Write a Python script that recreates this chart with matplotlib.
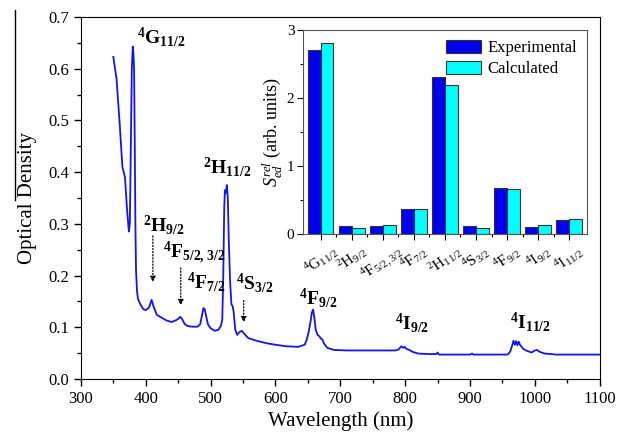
import matplotlib
matplotlib.use("Agg")
import matplotlib.pyplot as plt
from matplotlib.lines import Line2D
import numpy as np

plt.rcParams["font.family"] = ["Liberation Serif", "DejaVu Serif"]
plt.rcParams["mathtext.fontset"] = "custom"
plt.rcParams["mathtext.rm"] = "Liberation Serif"
plt.rcParams["mathtext.it"] = "Liberation Serif:italic"
plt.rcParams["mathtext.bf"] = "Liberation Serif:bold"

# absorption spectrum
wavelength = [350, 355, 360, 364, 368, 371, 374, 375.5, 377, 378.5, 380, 381, 382, 383, 384, 385,
              386.5, 388, 391, 396, 400, 405, 409, 412, 417, 425, 432, 440, 446, 450, 453, 456,
              460, 465, 472, 480, 484, 487, 489, 491, 493, 496, 500, 506, 512, 516, 518, 519.5,
              521, 522, 523.5, 525, 526.5, 528, 530, 532, 534, 535.5, 538, 541, 544, 548, 552,
              558, 570, 586, 600, 617, 635, 645, 648, 651, 654, 656, 658, 660, 662, 665, 668,
              670, 672, 675, 680, 690, 710, 730, 760, 785, 790, 794, 797, 799, 802, 806, 812,
              820, 835, 848, 850, 852, 880, 900, 903, 905, 940, 958, 962, 965, 967, 969, 971,
              973, 975, 977, 979, 982, 988, 995, 1000, 1003, 1008, 1015, 1025, 1032, 1050, 1100]
optical_density = [0.623, 0.58, 0.49, 0.41, 0.39, 0.33, 0.285, 0.30, 0.45, 0.60, 0.643, 0.63, 0.60,
                   0.46, 0.30, 0.21, 0.17, 0.155, 0.146, 0.135, 0.133, 0.138, 0.153, 0.14, 0.124,
                   0.118, 0.113, 0.110, 0.113, 0.116, 0.12, 0.116, 0.106, 0.102, 0.101, 0.101,
                   0.106, 0.125, 0.137, 0.134, 0.122, 0.105, 0.098, 0.093, 0.095, 0.103, 0.115,
                   0.2, 0.33, 0.365, 0.36, 0.375, 0.35, 0.27, 0.19, 0.145, 0.14, 0.13, 0.095,
                   0.085, 0.09, 0.093, 0.087, 0.079, 0.074, 0.069, 0.066, 0.063, 0.062, 0.066,
                   0.075, 0.09, 0.11, 0.128, 0.134, 0.118, 0.095, 0.085, 0.082, 0.078, 0.077,
                   0.068, 0.06, 0.056, 0.055, 0.055, 0.055, 0.055, 0.057, 0.063, 0.06, 0.062,
                   0.058, 0.056, 0.052, 0.049, 0.048, 0.048, 0.051, 0.047, 0.047, 0.047, 0.049,
                   0.047, 0.047, 0.047, 0.053, 0.065, 0.074, 0.066, 0.073, 0.065, 0.072, 0.066,
                   0.063, 0.058, 0.054, 0.051, 0.055, 0.056, 0.052, 0.049, 0.048, 0.047, 0.047,
                   0.047]

# band labels on the spectrum: text, x, y
band_labels = [r"$\mathbf{^4G_{11/2}}$", r"$\mathbf{^2H_{11/2}}$", r"$\mathbf{^2H_{9/2}}$",
               r"$\mathbf{^4F_{5/2,\,3/2}}$", r"$\mathbf{^4F_{7/2}}$", r"$\mathbf{^4S_{3/2}}$",
               r"$\mathbf{^4F_{9/2}}$", r"$\mathbf{^4I_{9/2}}$", r"$\mathbf{^4I_{11/2}}$"]
band_x = [386, 489, 395, 426, 463, 539, 636, 784, 961]
band_y = [0.662, 0.41, 0.297, 0.245, 0.188, 0.186, 0.157, 0.108, 0.11]

# dotted arrows: x, y start, y end
arrow_x = [411, 454, 551]
arrow_y0 = [0.282, 0.22, 0.157]
arrow_y1 = [0.182, 0.137, 0.104]

# inset bar chart
transitions = [r"$^4$G$_{11/2}$", r"$^2$H$_{9/2}$", r"$^4$F$_{5/2,3/2}$", r"$^4$F$_{7/2}$",
               r"$^2$H$_{11/2}$", r"$^4$S$_{3/2}$", r"$^4$F$_{9/2}$", r"$^4$I$_{9/2}$",
               r"$^4$I$_{11/2}$"]
experimental = [2.71, 0.11, 0.11, 0.36, 2.31, 0.11, 0.67, 0.10, 0.20]
calculated = [2.80, 0.09, 0.13, 0.37, 2.19, 0.08, 0.66, 0.13, 0.22]

fig = plt.figure(figsize=(6.32, 4.38), dpi=100)
ax = fig.add_axes([0.128, 0.135, 0.821, 0.826])
ax.plot(wavelength, optical_density, color="#1414f0", lw=1.3)
ax.set_xlim(300, 1100)
ax.set_ylim(0, 0.7)
ax.set_xticks(np.arange(300, 1101, 100))
ax.set_xticks(np.arange(350, 1100, 100), minor=True)
ax.set_yticks(np.arange(0, 0.71, 0.1))
ax.set_yticks(np.arange(0.05, 0.7, 0.1), minor=True)
ax.yaxis.set_major_formatter(matplotlib.ticker.FormatStrFormatter("%.1f"))
ax.tick_params(labelsize=12, length=5, width=1)
ax.tick_params(which="minor", length=3, width=1)
ax.set_xlabel("Wavelength (nm)", fontsize=15, labelpad=3)
ax.set_ylabel("Optical Density", fontsize=15, labelpad=8)

for txt, x, y in zip(band_labels, band_x, band_y):
    ax.text(x, y, txt, fontsize=14, ha="left", va="center")

for x, y0, y1 in zip(arrow_x, arrow_y0, arrow_y1):
    ax.annotate("", xy=(x, y1), xytext=(x, y0),
                arrowprops=dict(arrowstyle="-|>", linestyle=(0, (1, 1.5)), lw=0.9,
                                color="black", mutation_scale=8))

# stray vertical rule at the left edge of the original figure
fig.add_artist(Line2D([15 / 632, 15 / 632], [1 - 10 / 438, 1 - 200 / 438],
                      color="black", lw=1))

# inset
ins = fig.add_axes([0.479, 0.466, 0.45, 0.466])
pos = np.arange(len(transitions))
w = 0.41
ins.bar(pos - w / 2, experimental, w, color="#0000ee", edgecolor="#333333", lw=0.8,
        label="Experimental")
ins.bar(pos + w / 2, calculated, w, color="#00ffff", edgecolor="#333333", lw=0.8,
        label="Calculated")
ins.set_xlim(-0.58, len(transitions) - 0.42)
ins.set_ylim(0, 3)
ins.set_xticks(pos)
ins.set_xticks(pos[:-1] + 0.5, minor=True)
ins.set_xticklabels(transitions, rotation=35, fontsize=10)
ins.set_yticks([0, 1, 2, 3])
ins.set_yticks([0.5, 1.5, 2.5], minor=True)
ins.tick_params(labelsize=11, length=4, width=0.8, pad=2)
ins.tick_params(which="minor", length=2.5, width=0.8)
for s in ins.spines.values():
    s.set_color("#555555")
ins.set_ylabel(r"$S_{ed}^{rel}$ (arb. units)", fontsize=13, labelpad=2)
ins.legend(loc="upper right", frameon=False, fontsize=12, handlelength=2.1,
           handleheight=0.8, handletextpad=0.4, labelspacing=0.3,
           borderaxespad=0.2)

fig.savefig("out.png", dpi=100)
